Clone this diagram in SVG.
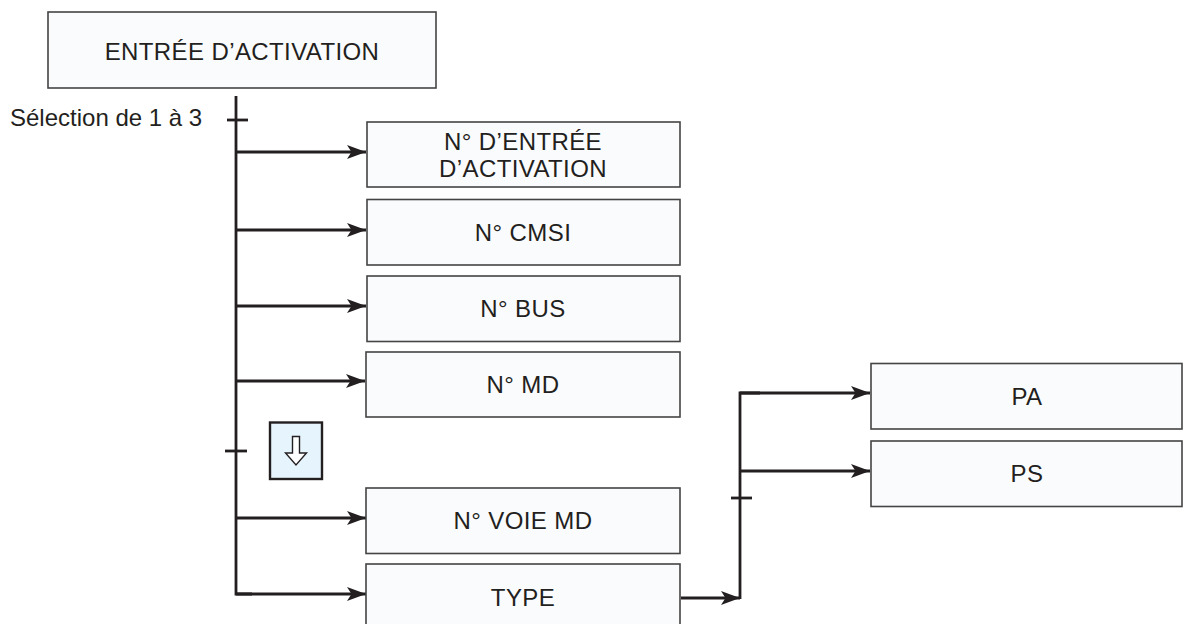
<svg xmlns="http://www.w3.org/2000/svg" width="1186" height="624" viewBox="0 0 1186 624">
  <defs>
    <marker id="ah" viewBox="-20 -8 21 16" refX="0" refY="0" markerWidth="21" markerHeight="16" markerUnits="userSpaceOnUse" orient="auto">
      <path d="M0,0 L-19,-7 L-14.5,0 L-19,7 Z" fill="#231f20"/>
    </marker>
    <style>
      .box { fill: #fafbfd; stroke: #444; stroke-width: 1.6; }
      .lbl { font-family: "Liberation Sans", Arial, sans-serif; font-size: 24px; letter-spacing: 0.4px; fill: #231f20; text-anchor: middle; }
      .ln { fill: none; stroke: #231f20; stroke-width: 2.8; }
      .arr { fill: none; stroke: #231f20; stroke-width: 2.8; marker-end: url(#ah); }
    </style>
  </defs>
  <rect width="1186" height="624" fill="#ffffff"/>

  <g id="connectors">
    <polyline class="ln" points="236,96 236,594 252,594"/>
    <line class="ln" x1="227" y1="120" x2="248" y2="120"/>
    <line class="ln" x1="225" y1="451" x2="247" y2="451"/>
    <line class="arr" x1="236" y1="152" x2="366" y2="152"/>
    <line class="arr" x1="236" y1="230" x2="366" y2="230"/>
    <line class="arr" x1="236" y1="306" x2="366" y2="306"/>
    <line class="arr" x1="236" y1="381" x2="365" y2="381"/>
    <line class="arr" x1="236" y1="518" x2="366" y2="518"/>
    <line class="arr" x1="236" y1="594" x2="366" y2="594"/>
    <line class="arr" x1="681" y1="598" x2="740" y2="598"/>
    <polyline class="ln" points="740,599 740,393 760,393"/>
    <line class="arr" x1="740" y1="393" x2="870" y2="393"/>
    <line class="arr" x1="740" y1="471" x2="870" y2="471"/>
    <line class="ln" x1="731" y1="498" x2="752" y2="498"/>
  </g>

  <g id="label-selection">
    <text x="10" y="126" font-family="Liberation Sans, Arial, sans-serif" font-size="24" fill="#231f20">Sélection de 1 à 3</text>
  </g>

  <g id="node-entree">
    <rect class="box" x="48" y="12" width="388" height="76"/>
    <text class="lbl" x="242" y="60">ENTRÉE D’ACTIVATION</text>
  </g>

  <g id="node-num-entree">
    <rect class="box" x="367" y="122" width="313" height="65"/>
    <text class="lbl" x="523" y="150">N° D’ENTRÉE</text>
    <text class="lbl" x="523" y="177">D’ACTIVATION</text>
  </g>

  <g id="node-cmsi">
    <rect class="box" x="367" y="199.5" width="313" height="65.5"/>
    <text class="lbl" x="523" y="241">N° CMSI</text>
  </g>

  <g id="node-bus">
    <rect class="box" x="367" y="276" width="313" height="65.5"/>
    <text class="lbl" x="523" y="317">N° BUS</text>
  </g>

  <g id="node-md">
    <rect class="box" x="366" y="352" width="314" height="65"/>
    <text class="lbl" x="523" y="393">N° MD</text>
  </g>

  <g id="node-scroll-icon">
    <rect x="270" y="422.5" width="52" height="56.5" fill="#e6f5fd" stroke="#231f20" stroke-width="2.4"/>
    <path d="M292.5,436.5 L299.5,436.5 L299.5,453 L306.5,453 L296,465 L285.5,453 L292.5,453 Z" fill="#ffffff" stroke="#231f20" stroke-width="1.4" stroke-linejoin="miter"/>
  </g>

  <g id="node-voie-md">
    <rect class="box" x="366" y="488" width="314" height="65.5"/>
    <text class="lbl" x="523" y="529">N° VOIE MD</text>
  </g>

  <g id="node-type">
    <rect class="box" x="366" y="564" width="314" height="66"/>
    <text class="lbl" x="523" y="606">TYPE</text>
  </g>

  <g id="node-pa">
    <rect class="box" x="871" y="363.5" width="311" height="65.5"/>
    <text class="lbl" x="1027" y="405">PA</text>
  </g>

  <g id="node-ps">
    <rect class="box" x="871" y="441" width="311" height="65.5"/>
    <text class="lbl" x="1027" y="482">PS</text>
  </g>
</svg>
